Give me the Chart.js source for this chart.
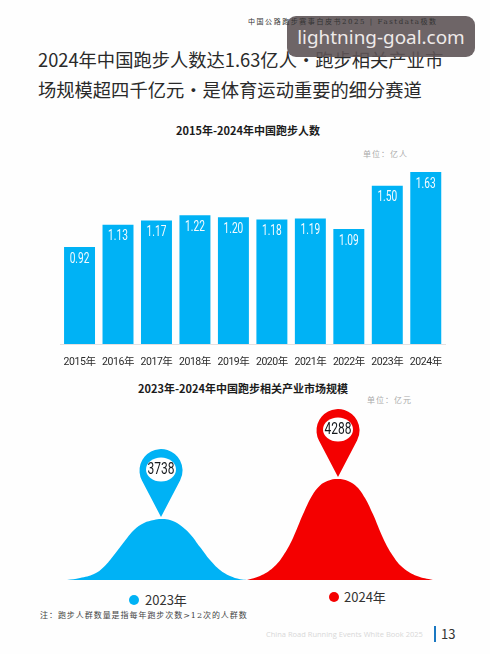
<!DOCTYPE html>
<html lang="zh-CN">
<head>
<meta charset="utf-8">
<title>2024年中国跑步人数</title>
<script src="https://cdn.jsdelivr.net/npm/chart.js@4/dist/chart.umd.min.js"></script>
<style>
  html, body { margin: 0; padding: 0; background: #fefefe; }
  #page { position: relative; width: 490px; height: 654px; overflow: hidden; font-family: "Noto Sans CJK SC", sans-serif; color: #222; }
  #page > * { position: absolute; white-space: nowrap; }
  canvas { display: block; }
  .headline { left: 38px; font-size: 18.3px; font-weight: 400; line-height: 24px; color: #2a2a2a; }
  .chartTitle { font-size: 11px; font-weight: 700; line-height: 14px; color: #1c1c1c; transform: translateX(-50%); }
  .unit { font-size: 8px; line-height: 10px; letter-spacing: 1px; color: #aaa; font-family: "DejaVu Serif", "Noto Sans CJK SC", serif; }
  .dot { width: 10px; height: 10px; border-radius: 50%; }
  .legendText { font-size: 13px; line-height: 16px; color: #333; }
  #watermark { left: 287px; top: 16px; width: 188px; height: 41px; border-radius: 9px; background: rgba(94, 84, 86, .9); color: #eeeaea; font: 18.9px/41px "Noto Sans", sans-serif; text-align: center; padding-top: 1px; height: 40px; }
</style>
</head>
<body>
<div id="page">
  <div class="headline" style="top:47px;">2024年中国跑步人数达1.63亿人・跑步相关产业市</div>
  <div class="headline" style="top:77px;">场规模超四千亿元・是体育运动重要的细分赛道</div>
  <div id="watermark">lightning-goal.com</div>
  <div style="left:248px;top:17px;font-size:7px;line-height:10px;letter-spacing:1.55px;color:#333;font-family:'DejaVu Serif','Noto Sans CJK SC',serif;">中国公路跑步赛事白皮书2025 | Fastdata极数</div>

  <div class="chartTitle" style="left:248px;top:123px;">2015年-2024年中国跑步人数</div>
  <div class="unit" style="left:363px;top:150px;">单位：亿人</div>
  <canvas id="runnersChart" width="405" height="215" style="left:50px;top:160px;position:absolute;"></canvas>

  <div class="chartTitle" style="left:243px;top:381px;">2023年-2024年中国跑步相关产业市场规模</div>
  <div class="unit" style="left:367px;top:396px;">单位：亿元</div>
  <canvas id="marketChart" width="366" height="180" style="left:67px;top:400px;position:absolute;"></canvas>

  <div class="dot" style="left:129px;top:595px;background:#00b2f5;"></div>
  <div class="legendText" style="left:145px;top:592px;">2023年</div>
  <div class="dot" style="left:329px;top:592px;background:#f40000;"></div>
  <div class="legendText" style="left:344px;top:589px;">2024年</div>

  <div style="left:40px;top:611px;font-size:8px;line-height:10px;letter-spacing:.95px;color:#444;font-family:'DejaVu Serif','Noto Sans CJK SC',serif;">注：跑步人群数量是指每年跑步次数&gt;12次的人群数</div>
  <div style="left:266px;top:628px;font-size:7.5px;line-height:12px;color:#d8d8d8;font-family:'Open Sans',sans-serif;">China Road Running Events White Book 2025</div>
  <div style="left:434px;top:626px;width:2px;height:16px;background:#1a78c2;"></div>
  <div style="left:441px;top:625px;font-size:13px;line-height:18px;color:#333;">13</div>
</div>

<script>
// 中国跑步人数（亿人）
var years = ['2015年', '2016年', '2017年', '2018年', '2019年', '2020年', '2021年', '2022年', '2023年', '2024年'];
var runners = [0.92, 1.13, 1.17, 1.22, 1.20, 1.18, 1.19, 1.09, 1.50, 1.63];

// 产业市场规模（亿元），bell shaped areas along the x axis
var marketLabels = ['2023年', '2024年'];
var market2023X = [0, 13, 27, 37, 47, 57, 67, 77, 87, 94, 103, 113, 123, 133, 143, 153, 163, 173, 180];
var market2023 = [2900, 2928, 2983, 3083, 3244, 3423, 3588, 3684, 3725, 3738, 3725, 3656, 3533, 3354, 3175, 3038, 2955, 2910, 2900];
var market2024X = [180, 193, 206, 216, 226, 236, 245, 253, 261, 271, 281, 290, 298, 306, 316, 326, 336, 350, 366];
var market2024 = [2900, 2955, 3069, 3230, 3478, 3803, 4060, 4200, 4265, 4288, 4262, 4180, 4028, 3803, 3478, 3230, 3069, 2955, 2900];

var BLUE = '#00b2f5';
var RED = '#f40000';
var LABEL_FONT = '"Roboto", "Noto Sans CJK SC", sans-serif';

function toPoints(xs, ys) {
	return xs.map(function (x, i) { return { x: x, y: ys[i] }; });
}

// draws text squeezed horizontally around its centre
function narrowText(ctx, text, x, y, squeeze) {
	ctx.save();
	ctx.translate(x, y);
	ctx.scale(squeeze, 1);
	ctx.textAlign = 'center';
	ctx.textBaseline = 'middle';
	ctx.fillText(text, 0, 0);
	ctx.restore();
}

// white value inside the top of each bar
var barValues = {
	id: 'barValues',
	beforeDraw: function (chart) {
		// tick labels pick this up
		chart.ctx.letterSpacing = '-0.45px';
	},
	afterDatasetsDraw: function (chart) {
		var ctx = chart.ctx;
		var meta = chart.getDatasetMeta(0);
		ctx.save();
		ctx.letterSpacing = '0px';
		ctx.fillStyle = '#f4fbff';
		ctx.font = '14.5px ' + LABEL_FONT;
		meta.data.forEach(function (bar, i) {
			narrowText(ctx, runners[i].toFixed(2), bar.x, bar.y + 12, 0.7);
		});
		ctx.restore();
	}
};

// map pin above the peak of each area, with the peak value in its head
var peakPins = {
	id: 'peakPins',
	afterDatasetsDraw: function (chart) {
		var ctx = chart.ctx;
		chart.data.datasets.forEach(function (ds, d) {
			var meta = chart.getDatasetMeta(d);
			var best = 0;
			ds.data.forEach(function (p, i) { if (p.y > ds.data[best].y) best = i; });
			var tipX = meta.data[best].x;
			var tipY = meta.data[best].y - 2;
			var r = 21.5, dist = 46.5;
			var cy = tipY - dist;
			var phi = Math.acos(r / dist);
			ctx.save();
			ctx.fillStyle = ds.backgroundColor;
			ctx.beginPath();
			ctx.arc(tipX, cy, r, Math.PI / 2 + phi, Math.PI * 2.5 - phi);
			ctx.lineTo(tipX, tipY);
			ctx.closePath();
			ctx.fill();
			ctx.fillStyle = '#fff';
			ctx.beginPath();
			ctx.ellipse(tipX, cy - 1, 15, 12, 0, 0, Math.PI * 2);
			ctx.fill();
			ctx.fillStyle = '#14181c';
			ctx.font = '16px ' + LABEL_FONT;
			narrowText(ctx, String(ds.data[best].y), tipX, cy - 1, 0.75);
			ctx.restore();
		});
	}
};

new Chart(document.getElementById('runnersChart'), {
	type: 'bar',
	plugins: [barValues],
	data: {
		labels: years,
		datasets: [{
			data: runners,
			backgroundColor: BLUE,
			categoryPercentage: 1,
			barPercentage: 0.805
		}]
	},
	options: {
		responsive: false,
		animation: false,
		layout: { padding: { left: 10.3, right: 10, top: 4.6 } },
		plugins: { legend: { display: false }, tooltip: { enabled: false } },
		scales: {
			x: {
				afterFit: function (axis) { axis.height = 31; },
				grid: { display: false },
				border: { color: '#e6e0e0' },
				ticks: { color: '#2a2a2a', font: { size: 10.5, family: LABEL_FONT }, maxRotation: 0, autoSkip: false, padding: 4 }
			},
			y: { display: false, min: 0, max: 1.7 }
		}
	}
});

new Chart(document.getElementById('marketChart'), {
	type: 'line',
	plugins: [peakPins],
	data: {
		datasets: [{
			label: marketLabels[0],
			data: toPoints(market2023X, market2023),
			backgroundColor: BLUE,
			borderWidth: 0,
			pointRadius: 0,
			fill: 'start',
			tension: 0.4
		}, {
			label: marketLabels[1],
			data: toPoints(market2024X, market2024),
			backgroundColor: RED,
			borderWidth: 0,
			pointRadius: 0,
			fill: 'start',
			tension: 0.4
		}]
	},
	options: {
		responsive: false,
		animation: false,
		layout: { padding: 0 },
		plugins: { legend: { display: false }, tooltip: { enabled: false } },
		scales: {
			x: { type: 'linear', display: false, min: 0, max: 366 },
			y: { display: false, min: 2900, max: 5375 }
		}
	}
});
</script>
</body>
</html>
